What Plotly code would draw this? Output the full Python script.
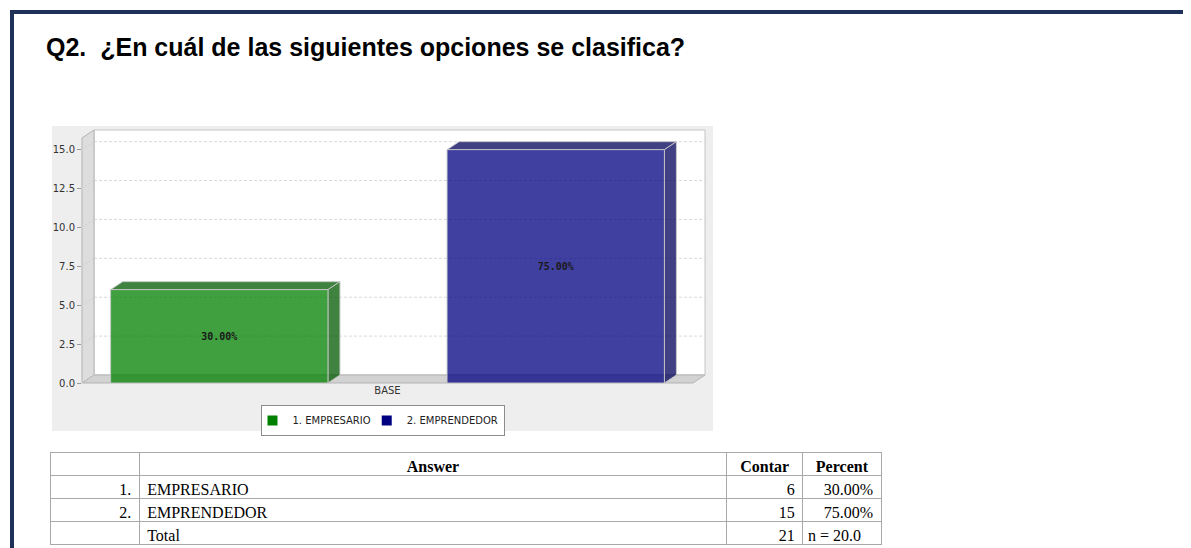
import plotly.graph_objects as go

# ---------------- data ----------------
categories = ["1. EMPRESARIO", "2. EMPRENDEDOR"]
counts = [6, 15]
percents = [30.00, 75.00]
x_category = "BASE"
y_ticks = [0.0, 2.5, 5.0, 7.5, 10.0, 12.5, 15.0]
title_text = "Q2.  ¿En cuál de las siguientes opciones se clasifica?"

table_header = ["", "Answer", "Contar", "Percent"]
row_numbers = ["1.", "2.", ""]
row_labels = ["EMPRESARIO", "EMPRENDEDOR", "Total"]
count_col = ["6", "15", "21"]
percent_col = ["30.00%", "75.00%", "n = 20.0"]

# ---------------- styles / layout constants ----------------
# the page body has an 8px margin: figure is sized so the page fits the window
PAGE_MARGIN = 8
W, H = 1191 - PAGE_MARGIN, 548 - PAGE_MARGIN
front_colors = ["rgba(0,128,0,0.75)", "rgba(0,0,128,0.75)"]
side_colors = ["rgba(0,89,0,0.75)", "rgba(0,0,89,0.75)"]
legend_colors = ["#008000", "#000080"]

# positions below are window pixels
FRONT_L, FRONT_R, FRONT_T, FRONT_B = 82, 693, 138, 383
DX, DY = 12, 8
Y_MAX = 15.75
X_HALF = 0.454
BARGAP, BARGROUPGAP = 0.0, 0.354
PANEL = (52, 126, 713, 431)


def fx(px):
    return (px - PAGE_MARGIN) / W


def fy(py):
    return 1 - (py - PAGE_MARGIN) / H


ppu_y = (FRONT_B - FRONT_T) / Y_MAX
ppu_x = (FRONT_R - FRONT_L) / (2 * X_HALF)
dxu, dyu = DX / ppu_x, DY / ppu_y

shapes = []


def paper_path(points):
    return "M " + " L ".join(f"{fx(x):.5f},{fy(y):.5f}" for x, y in points) + " Z"


# chart panel background
shapes.append(dict(type="rect", xref="paper", yref="paper", layer="below",
                   x0=fx(PANEL[0]), x1=fx(PANEL[2]), y0=fy(PANEL[3]), y1=fy(PANEL[1]),
                   fillcolor="#eeeeee", line=dict(width=0)))
# back plane
shapes.append(dict(type="rect", xref="paper", yref="paper", layer="below",
                   x0=fx(FRONT_L + DX), x1=fx(FRONT_R + DX), y0=fy(FRONT_B - DY), y1=fy(FRONT_T - DY),
                   fillcolor="white", line=dict(color="#c4c4c4", width=1)))
# back gridlines
for t in y_ticks:
    shapes.append(dict(type="line", xref="paper", yref="y", layer="below",
                       x0=fx(FRONT_L + DX), x1=fx(FRONT_R + DX), y0=t + dyu, y1=t + dyu,
                       line=dict(color="#d9d9d9", width=1, dash="3px,2px")))
# left wall
shapes.append(dict(type="path", xref="paper", yref="paper", layer="below",
                   path=paper_path([(FRONT_L, FRONT_T), (FRONT_L + DX, FRONT_T - DY),
                                    (FRONT_L + DX, FRONT_B - DY), (FRONT_L, FRONT_B)]),
                   fillcolor="#dddddd", line=dict(color="#b4b4b4", width=1)))
# floor
shapes.append(dict(type="path", xref="paper", yref="paper", layer="below",
                   path=paper_path([(FRONT_L, FRONT_B), (FRONT_L + DX, FRONT_B - DY),
                                    (FRONT_R + DX, FRONT_B - DY), (FRONT_R, FRONT_B)]),
                   fillcolor="#d2d2d2", line=dict(color="#b4b4b4", width=1)))
# wall connectors from ticks to back gridlines
for t in y_ticks:
    shapes.append(dict(type="line", xref="paper", yref="y", layer="below",
                       x0=fx(FRONT_L), x1=fx(FRONT_L + DX), y0=t, y1=t + dyu,
                       line=dict(color="#cfcfcf", width=1, dash="2px,2px")))

# 3D faces of bars, derived from values and the bar layout
n = len(categories)
slot = (1 - BARGAP) / n
bar_w = slot * (1 - BARGROUPGAP)
for i, v in enumerate(counts):
    c = -(1 - BARGAP) / 2 + slot * (i + 0.5)
    x0, x1 = c - bar_w / 2, c + bar_w / 2
    top = f"M {x0},{v} L {x0 + dxu},{v + dyu} L {x1 + dxu},{v + dyu} L {x1},{v} Z"
    side = f"M {x1},{v} L {x1 + dxu},{v + dyu} L {x1 + dxu},{dyu} L {x1},0 Z"
    for p in (top, side):
        shapes.append(dict(type="path", xref="x", yref="y", layer="below", path=p,
                           fillcolor=side_colors[i], line=dict(color="rgba(200,200,200,0.9)", width=1)))

# borders of the page
shapes.append(dict(type="rect", xref="paper", yref="paper", layer="above",
                   x0=fx(10), x1=1, y0=fy(14), y1=fy(10), fillcolor="#1e3158", line=dict(width=0)))
shapes.append(dict(type="rect", xref="paper", yref="paper", layer="above",
                   x0=fx(10), x1=fx(14), y0=0, y1=fy(10), fillcolor="#1e3158", line=dict(width=0)))

fig = go.Figure()

for i, cat in enumerate(categories):
    fig.add_trace(go.Bar(
        x=[x_category], y=[counts[i]], name=cat, showlegend=False,
        marker=dict(color=front_colors[i], line=dict(color="rgba(200,200,200,0.9)", width=1)),
        text=[f"{percents[i]:.2f}%"], textposition="inside", insidetextanchor="middle",
        textangle=0, constraintext="none",
        textfont=dict(family="DejaVu Sans Mono", size=10, color="#1a1a1a", weight="bold"),
        hoverinfo="skip",
    ))
for i, cat in enumerate(categories):
    fig.add_trace(go.Scatter(
        x=[None], y=[None], mode="markers", name=cat,
        marker=dict(symbol="square", size=10, color=legend_colors[i]),
    ))

# no-wrap spaces; last percent cell sits toward the left in the reference
NB = "\u00a0"
percent_cells = percent_col[:-1] + [percent_col[-1].replace(" ", NB) + NB * 3]

fig.add_trace(go.Table(
    domain=dict(x=[fx(50), fx(881)], y=[0, fy(452)]),
    columnwidth=[89, 586, 76, 78],
    header=dict(values=table_header, align="center", height=23,
                font=dict(family="Liberation Serif", size=16, color="black", weight="bold"),
                fill_color="white", line=dict(color="#a9a9a9", width=1)),
    cells=dict(values=[row_numbers, row_labels, count_col, percent_cells],
               align=["right", "left", "right", "right"], height=23,
               font=dict(family="Liberation Serif", size=16, color="black"),
               fill_color="white", line=dict(color="#a9a9a9", width=1)),
))

fig.update_layout(
    width=W, height=H, margin=dict(l=0, r=0, t=0, b=0),
    paper_bgcolor="white", plot_bgcolor="rgba(0,0,0,0)",
    barmode="group", bargap=BARGAP, bargroupgap=BARGROUPGAP,
    shapes=shapes,
    xaxis=dict(domain=[fx(FRONT_L), fx(FRONT_R)], range=[-X_HALF, X_HALF], type="category",
               showgrid=False, zeroline=False, showline=False, ticks="", automargin=False,
               tickfont=dict(family="DejaVu Sans", size=10, color="#333333"), fixedrange=True),
    yaxis=dict(domain=[fy(FRONT_B), fy(FRONT_T)], range=[0, Y_MAX], automargin=False,
               tickvals=y_ticks, tickformat=".1f", showgrid=False, zeroline=False,
               showline=False, ticks="outside", ticklen=4, tickcolor="#999999",
               tickfont=dict(family="DejaVu Sans", size=10, color="#333333"), fixedrange=True),
    legend=dict(orientation="h", x=fx(382.5), xanchor="center", y=fy(420.5), yanchor="middle",
                bgcolor="white", bordercolor="#8c8c8c", borderwidth=1,
                font=dict(family="DejaVu Sans", size=10, color="#222222"),
                itemwidth=30, tracegroupgap=0, indentation=-9),
    annotations=[dict(text=f"<b>{title_text}</b>", xref="paper", yref="paper",
                      x=fx(44), y=fy(47), xanchor="left", yanchor="middle", showarrow=False,
                      font=dict(family="Liberation Sans", size=25, color="black"))],
)

fig.write_html("out.html")
